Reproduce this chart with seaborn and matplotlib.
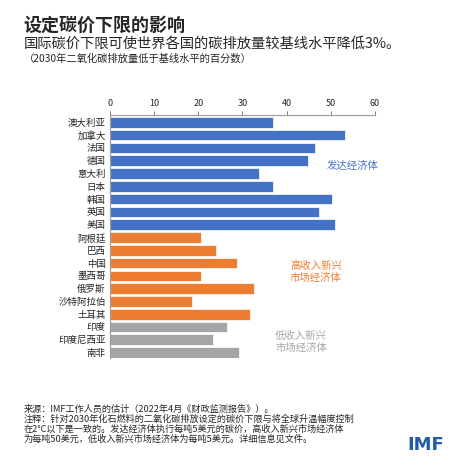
import pandas as pd
import seaborn as sns
import matplotlib.pyplot as plt

# data
countries = ['澳大利亚', '加拿大', '法国', '德国', '意大利', '日本', '韩国', '英国', '美国',
             '阿根廷', '巴西', '中国', '墨西哥', '俄罗斯', '沙特阿拉伯', '土耳其',
             '印度', '印度尼西亚', '南非']
values = [36.8, 53.1, 46.5, 44.9, 33.8, 36.8, 50.2, 47.4, 50.9,
          20.5, 24.0, 28.7, 20.5, 32.5, 18.6, 31.6,
          26.6, 23.3, 29.3]
groups = ['发达经济体'] * 9 + ['高收入新兴市场经济体'] * 7 + ['低收入新兴市场经济体'] * 3
group_colors = {'发达经济体': '#4472C4',
                '高收入新兴市场经济体': '#ED7D31',
                '低收入新兴市场经济体': '#A5A5A5'}
x_ticks = [0, 10, 20, 30, 40, 50, 60]

df = pd.DataFrame({'country': countries, 'value': values, 'group': groups})

sns.set_theme(style='white')
plt.rcParams['font.family'] = ['Noto Sans CJK SC', 'DejaVu Sans']

fig = plt.figure(figsize=(4.67, 4.67), dpi=100)
ax = fig.add_axes([0.2355, 0.233, 0.5675, 0.520])

sns.barplot(data=df, x='value', y='country', hue='group', palette=group_colors,
            dodge=False, legend=False, width=0.83, orient='h', ax=ax,
            saturation=1, edgecolor='white', linewidth=0.5)

ax.set_xlim(0, 60)
ax.set_xticks(x_ticks)
ax.xaxis.tick_top()
ax.tick_params(axis='x', direction='out', length=3, width=0.7, color='#808080',
               labelsize=6.5, pad=2)
ax.tick_params(axis='y', length=0, labelsize=6.8, pad=3)
ax.set_xlabel('')
ax.set_ylabel('')
for side in ['right', 'bottom']:
    ax.spines[side].set_visible(False)
for side in ['top', 'left']:
    ax.spines[side].set_color('#A0A0A0')
    ax.spines[side].set_linewidth(0.9)
ax.set_ylim(18.44, -0.55)

# group labels
ax.text(49.1, 3.44, '发达经济体', color='#4472C4', fontsize=7.5, va='center')
ax.text(40.75, 11.7, '高收入新兴\n市场经济体', color='#ED7D31', fontsize=7.5,
        va='center', linespacing=1.2)
ax.text(37.4, 17.15, '低收入新兴\n市场经济体', color='#A5A5A5', fontsize=7.5,
        va='center', linespacing=1.2)

# titles
fig.text(0.049, 0.946, '设定碳价下限的影响', fontsize=13, fontweight='bold', va='center')
fig.text(0.051, 0.907, '国际碳价下限可使世界各国的碳排放量较基线水平降低3%。',
         fontsize=10.3, va='center')
fig.text(0.051, 0.875, '（2030年二氧化碳排放量低于基线水平的百分数）',
         fontsize=7.4, va='center')

# footer
footer_lines = ['来源：IMF工作人员的估计（2022年4月《财政监测报告》）。',
                '注释：针对2030年化石燃料的二氧化碳排放设定的碳价下限与将全球升温幅度控制',
                '在2°C以下是一致的。发达经济体执行每吨5美元的碳价，高收入新兴市场经济体',
                '为每吨50美元，低收入新兴市场经济体为每吨5美元。详细信息见文件。']
for i, line in enumerate(footer_lines):
    fig.text(0.051, 0.1242 - i * 0.0217, line, fontsize=6.6, va='center')
fig.text(0.8715, 0.0364, 'IMF', fontsize=13, fontweight='bold', color='#1F5BA8',
         va='baseline', family='DejaVu Sans')

fig.savefig('out.png', dpi=100)
